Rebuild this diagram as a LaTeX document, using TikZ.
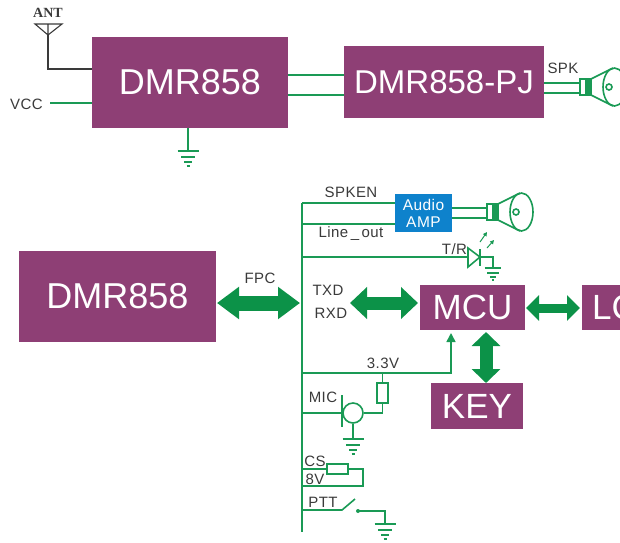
\documentclass[tikz,border=0pt]{standalone}
\usepackage{fontspec}
\setmainfont{Liberation Sans}
\newfontfamily\antfont{Liberation Serif}
\newfontfamily\lblfont[LetterSpace=3]{Liberation Sans}
\usetikzlibrary{arrows.meta}
\definecolor{plum}{HTML}{8E3F75}
\definecolor{wire}{HTML}{1A9A55}
\definecolor{fatgreen}{HTML}{0C9248}
\definecolor{ampblue}{HTML}{0E82CC}
\definecolor{txt}{HTML}{3A3A3A}
\tikzset{
  mainbox/.style={fill=plum, text=white, inner sep=0pt, font=\fontsize{35}{37}\selectfont},
  wireline/.style={draw=wire, line width=1.6pt},
  lbl/.style={text=txt, inner sep=0pt, font=\lblfont\fontsize{15}{17}\selectfont},
  resbox/.style={draw=wire, line width=1.6pt, fill=white, minimum width=#1, inner sep=0pt},
  gnd/.pic={
    \foreach \y/\w in {0/10.5,6/7,11/4,15/1.5}
      \draw[wireline] (-\w,\y) -- (\w,\y);
  },
  speaker/.pic={
    \draw[wireline] (0,-8) rectangle (11,8);
    \fill[wire] (5,-8) rectangle (11,8);
    \draw[wireline] (11,-8) -- (33,-19) (11,8) -- (33,19);
    \draw[wireline] (34.5,0) ellipse [x radius=11.5, y radius=19];
    \draw[wireline] (29,0) circle [radius=3];
  },
  fatarrow/.style n args={3}{draw=fatgreen, line width=#1,
    {Triangle[length=#3,width=#2]}-{Triangle[length=#3,width=#2]}},
}
\begin{document}
\begin{tikzpicture}[x=1pt, y=-1pt]
    \useasboundingbox (0,0) rectangle (620,542);
    \clip (0,0) rectangle (620,542);
    % top row
    \node[mainbox, minimum width=196pt, minimum height=91pt, font=\fontsize{36}{38}\selectfont] (radio) at (190,82.5) {DMR858};
    \node[mainbox, minimum width=200pt, minimum height=72pt, font=\fontsize{33}{35}\selectfont] (pj) at (444,82) {DMR858-PJ};
    \node[inner sep=0pt, text=txt, font=\antfont\bfseries\fontsize{14}{15}\selectfont] (antlbl) at (48,13) {ANT};
    \coordinate (antbase) at (48,35);
    \draw[draw=txt, line width=1.1pt] (35,24) -- (62,24) -- (antbase) -- cycle (48,24) -- (antbase);
    \draw[draw=txt, line width=1.2pt] (antbase) |- (92,69);
    \node[lbl] (vcc) at (26.5,104) {VCC};
    \draw[wireline] (50,103) -- (92,103);
    \coordinate (topgnd) at (188,151);
    \draw[wireline] (topgnd |- radio.south) -- (topgnd);
    \pic at (topgnd) {gnd};
    \foreach \y in {75,95}
      \draw[wireline] (288,\y) -- (344,\y);
    \node[lbl] (spk) at (563,68) {SPK};
    \foreach \y in {83,93}
      \draw[wireline] (544,\y) -- (580,\y);
    \pic at (580,87) {speaker};
    % lower part
    \node[mainbox, minimum width=197pt, minimum height=91pt, font=\fontsize{36}{38}\selectfont] (dmr) at (117.5,296.5) {DMR858};
    \node[mainbox, minimum width=105pt, minimum height=45pt] (mcu) at (472.5,307.5) {MCU};
    \node[mainbox, minimum width=92pt, minimum height=46pt] (key) at (477,406) {KEY};
    \node[mainbox, anchor=west, inner xsep=10pt, minimum height=45pt] (lcd) at (582,307.5) {LC};
    \node[fill=ampblue, text=white, inner sep=0pt, minimum width=57pt, minimum height=38pt, align=center, font=\lblfont\fontsize{15.5}{17}\selectfont] (amp) at (423.5,213) {Audio\\AMP};
    \coordinate (busT) at (302,203);
    \coordinate (busB) at (302,532);
    \draw[wireline, line width=1.8pt] (busT) -- (busB);
    \draw[fatarrow={15pt}{31pt}{22pt}] (217,303) -- (300,303);
    \node[lbl] (fpc) at (260,278) {FPC};
    \draw[fatarrow={13pt}{31pt}{17pt}] (350,303) -- (418,303);
    \draw[fatarrow={9pt}{25pt}{13pt}] (526,308) -- (580,308);
    \draw[fatarrow={13pt}{28pt}{14pt}] (486,332) -- (486,383);
    \node[lbl] (txd) at (328,290) {TXD};
    \node[lbl] (rxd) at (331,313) {RXD};
    % speaker branch
    \draw[wireline] (busT) -- (395,203);
    \draw[wireline] (302,224) -- (395,224);
    \node[lbl] (spken) at (351,192) {SPKEN};
    \node[lbl] (lineout) at (351,234) {Line\,\_\,out};
    \foreach \y in {208,218}
      \draw[wireline] (452,\y) -- (487,\y);
    \pic at (487,212) {speaker};
    % led
    \node[lbl] (tr) at (454.5,249) {T/R};
    \draw[wireline] (302,257) -- (468,257);
    \draw[wireline] (468,248) -- (468,267) -- (480,257) -- cycle;
    \draw[wireline] (480,249) -- (480,266);
    \coordinate (ledgnd) at (493,268);
    \draw[wireline] (480,257) -| (ledgnd);
    \pic[scale=0.8] at (ledgnd) {gnd};
    \draw[wire, line width=1pt, -{Triangle[length=4pt,width=4pt]}] (480,242) -- (487,232);
    \draw[wire, line width=1pt, -{Triangle[length=4pt,width=4pt]}] (487,248) -- (494,240);
    % 3.3V and mic
    \node[lbl] (vthree) at (383,363) {3.3V};
    \draw[wireline, -{Triangle[length=9pt,width=9pt]}] (302,373) -| (451,333);
    \node[resbox=11pt, minimum height=20pt] (rmic) at (382.5,393) {};
    \draw[wireline] (382.5,373) -- (rmic);
    \node[lbl] (miclbl) at (323,397) {MIC};
    \node[draw=wire, line width=1.6pt, circle, minimum size=20pt, inner sep=0pt] (mic) at (353,413) {};
    \draw[wireline] (342,395) -- (342,427);
    \draw[wireline] (302,413) -- (mic.west);
    \draw[wireline] (rmic) |- (mic.east);
    \coordinate (micgnd) at (353,439);
    \draw[wireline] (mic.south) -- (micgnd);
    \pic at (micgnd) {gnd};
    % cs and 8v
    \node[lbl] (cs) at (315,461) {CS};
    \node[lbl] (eightv) at (315,479) {8V};
    \node[resbox=21pt, minimum height=10pt] (rcs) at (337.5,469) {};
    \draw[wireline] (302,469) -- (rcs.west);
    \draw[wireline] (rcs.east) -- (363,469) |- (302,486);
    % ptt
    \node[lbl] (ptt) at (323,502) {PTT};
    \draw[wireline] (302,510) -- (342,510) -- (355,499);
    \fill[wire] (358,511) circle [radius=2];
    \coordinate (pttgnd) at (385,524);
    \draw[wireline] (358,511) -| (pttgnd);
    \pic at (pttgnd) {gnd};
\end{tikzpicture}
\end{document}
